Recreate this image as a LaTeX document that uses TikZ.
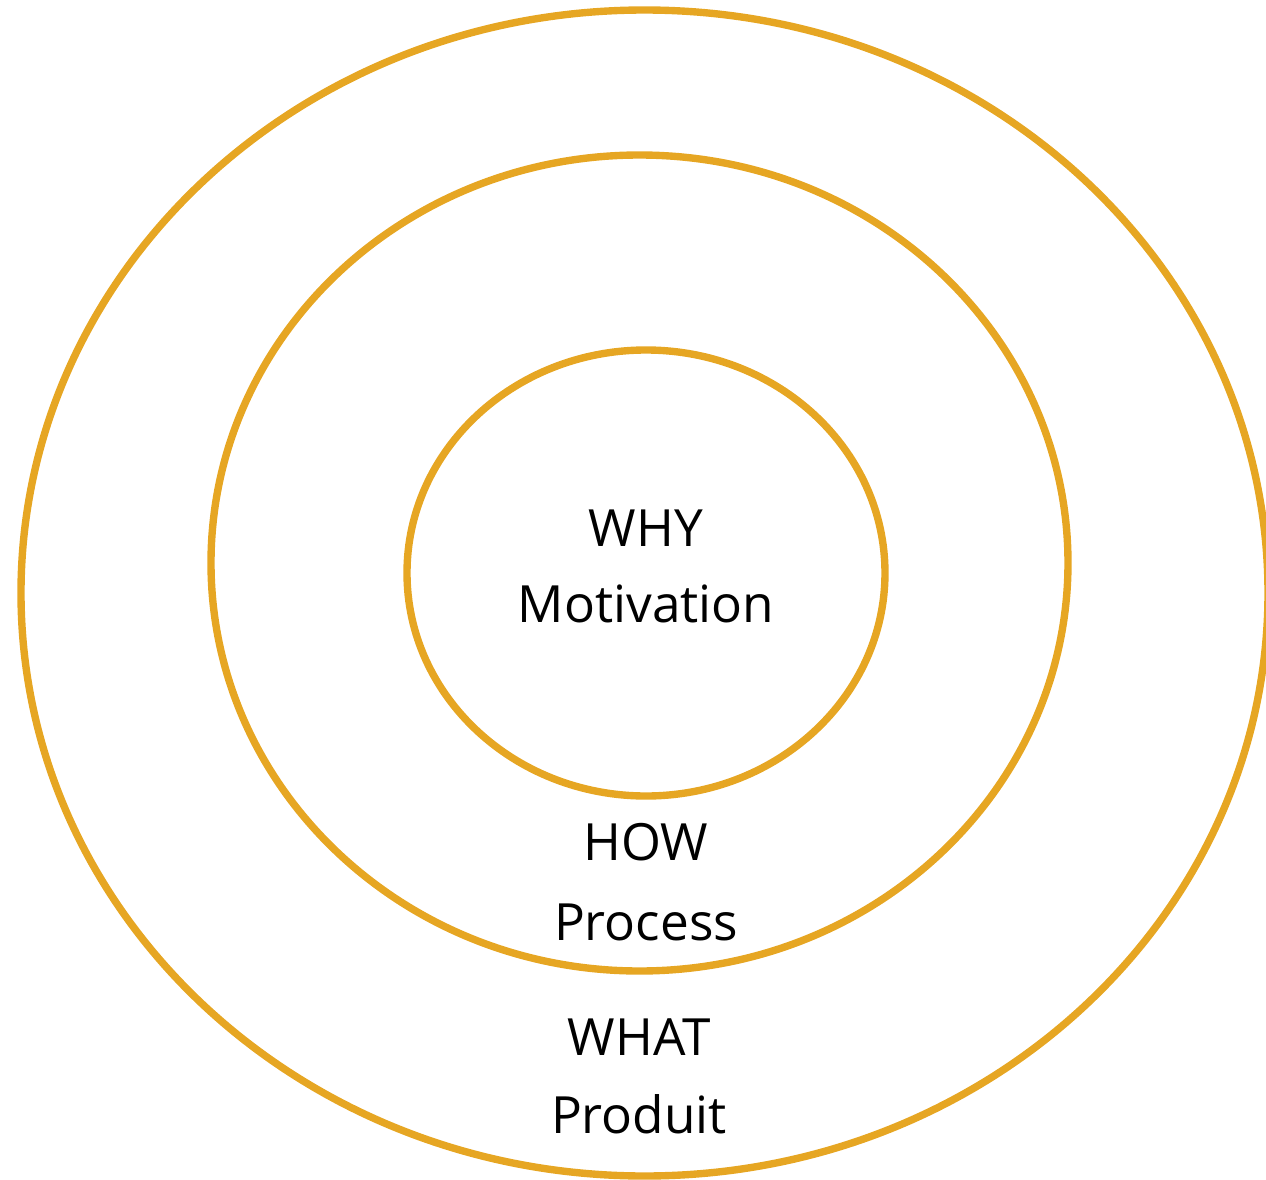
\documentclass[tikz,border=0pt]{standalone}
\usepackage{fontspec}
\setmainfont{Open Sans}
\usetikzlibrary{shapes.geometric}
\definecolor{gold}{RGB}{230,166,35}
\tikzset{
  ring/.style={shape=ellipse,draw=gold,line width=2.1pt,inner sep=0pt},
  lbl/.style={anchor=base,font=\fontsize{14.6}{18}\selectfont,text=black}
}
\begin{document}
\begin{tikzpicture}
\useasboundingbox (0,0) rectangle (12.66,-11.80);
\node[ring,minimum width=12.47cm,minimum height=11.66cm] (what) at (6.445,-5.93) {};
\node[ring,minimum width=8.57cm,minimum height=8.16cm] (how) at (6.395,-5.63) {};
\node[ring,minimum width=4.78cm,minimum height=4.46cm] (why) at (6.46,-5.73) {};

\node[lbl] (whyA) at (6.46,-5.46) {WHY};
\node[lbl] (whyB) at (6.46,-6.22) {Motivation};
\node[lbl] (howA) at (6.46,-8.60) {HOW};
\node[lbl] (howB) at (6.46,-9.40) {Process};
\node[lbl] (whatA) at (6.39,-10.55) {WHAT};
\node[lbl] (whatB) at (6.39,-11.33) {Produit};
\end{tikzpicture}
\end{document}
